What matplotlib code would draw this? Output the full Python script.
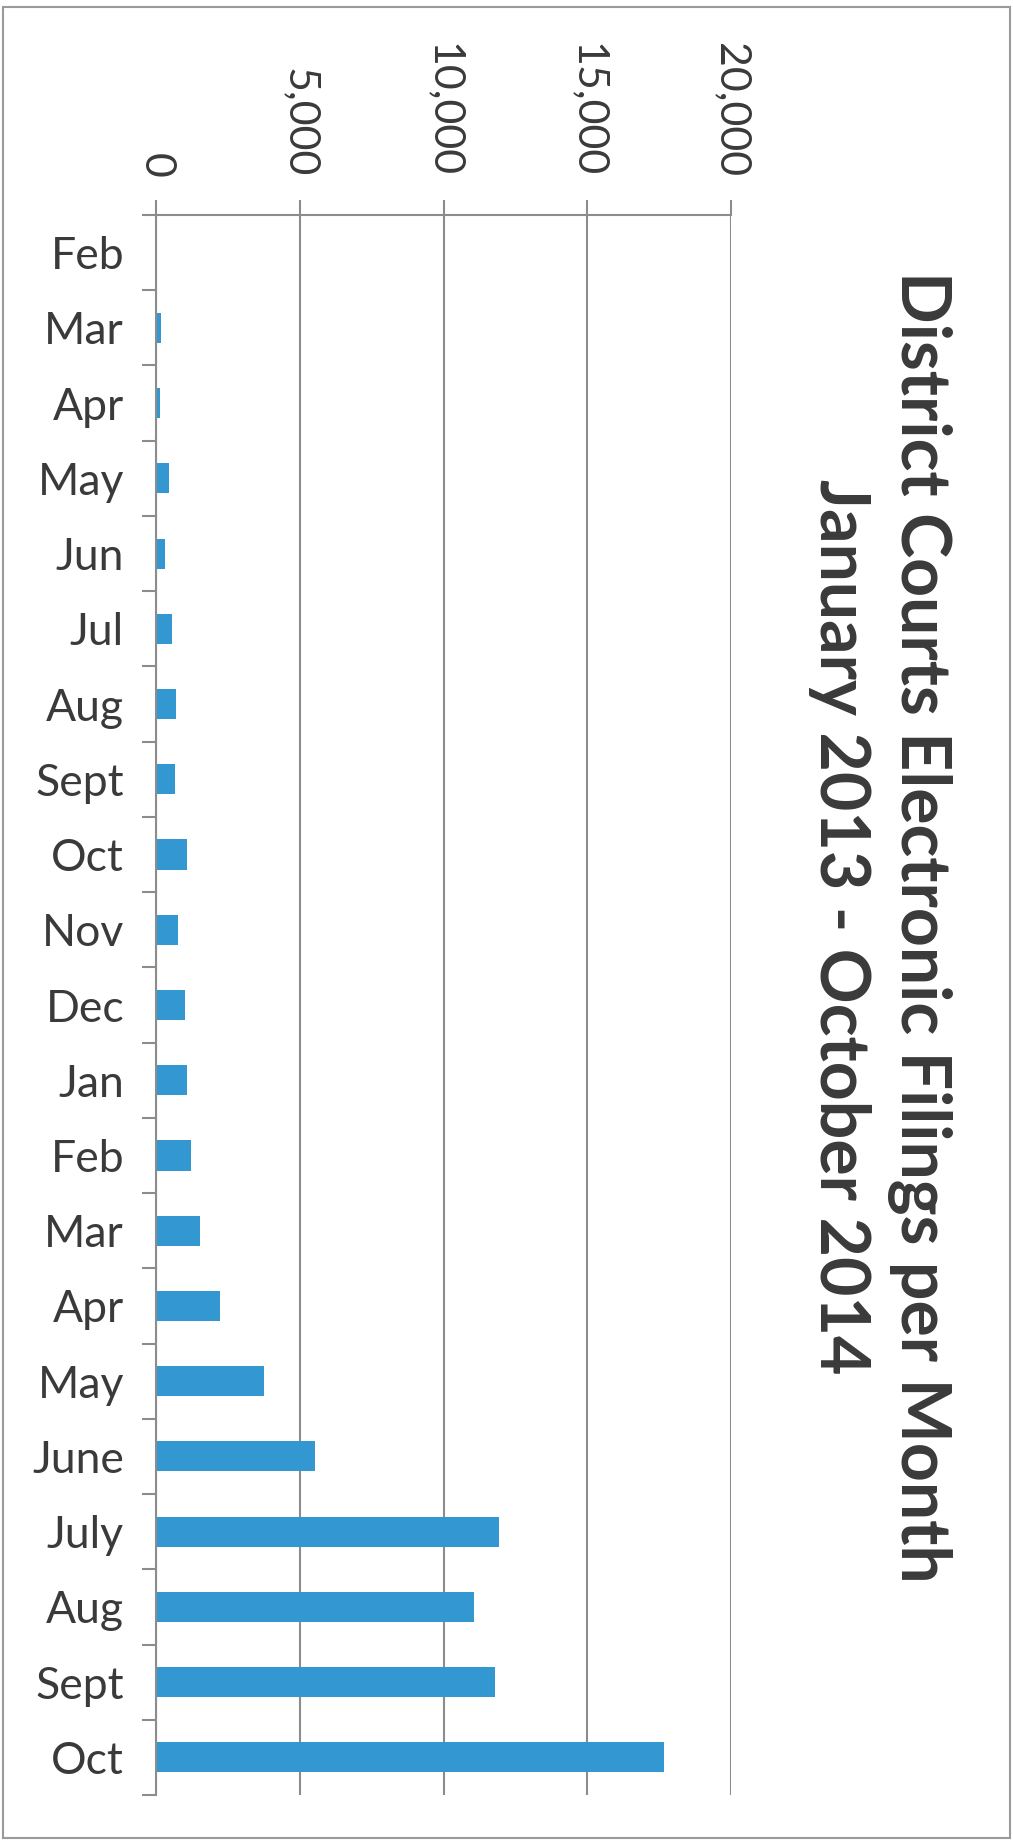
import matplotlib
matplotlib.use("Agg")
import matplotlib.pyplot as plt
import matplotlib.patches as patches
from matplotlib.ticker import FuncFormatter
import numpy as np

# months Feb 2013 .. Oct 2014
months = ["Feb", "Mar", "Apr", "May", "Jun", "Jul", "Aug", "Sept", "Oct", "Nov",
          "Dec", "Jan", "Feb", "Mar", "Apr", "May", "June", "July", "Aug", "Sept", "Oct"]
filings = [0, 170, 140, 440, 300, 550, 700, 660, 1080, 770,
           1010, 1080, 1220, 1540, 2210, 3770, 5520, 11920, 11060, 11790, 17670]
value_ticks = [0, 5000, 10000, 15000, 20000]
title = "District Courts Electronic Filings per Month\nJanuary 2013 - October 2014"

W, H = 1013, 1843
grey = "#8c8c8c"
text_col = "#3a3a3a"
bar_col = "#3397d2"

plt.rcParams["font.family"] = ["Lato", "DejaVu Sans"]

fig = plt.figure(figsize=(W / 100, H / 100), dpi=100)
ax = fig.add_axes([156 / W, 1 - 1795 / H, (731 - 156) / W, (1795 - 215) / H])

pos = np.arange(len(months))
ax.barh(pos, filings, height=0.4, color=bar_col, zorder=3)

ax.set_xlim(0, 20000)
ax.set_ylim(len(months) - 0.5, -0.5)

# value axis on top, labels rotated like the scanned page
ax.xaxis.tick_top()
ax.set_xticks(value_ticks)
ax.xaxis.set_major_formatter(FuncFormatter(lambda v, p: f"{v:,.0f}"))
ax.tick_params(axis="x", which="major", direction="out", length=11, width=1.5,
               color=grey, pad=16, labelsize=31, labelcolor=text_col,
               labelrotation=-90)
ax.grid(axis="x", color=grey, linewidth=1.5, zorder=0)

# category axis on the left, ticks between categories
ax.set_yticks(pos)
ax.set_yticklabels(months)
ax.set_yticks(np.arange(len(months) + 1) - 0.5, minor=True)
ax.tick_params(axis="y", which="major", length=0, pad=23, labelsize=32,
               labelcolor=text_col)
ax.tick_params(axis="y", which="minor", direction="out", length=10, width=1.5,
               color=grey)

for side in ["right", "bottom"]:
    ax.spines[side].set_visible(False)
for side in ["left", "top"]:
    ax.spines[side].set_color(grey)
    ax.spines[side].set_linewidth(1.5)
    ax.spines[side].set_zorder(4)

fig.text(880 / W, 1 - 927 / H, title, rotation=-90, ha="center", va="center",
         multialignment="center", fontsize=49, fontweight="bold",
         color=text_col, linespacing=1.3)

# page border from the scan
fig.patches.append(patches.Rectangle((3 / W, 5 / H), (1010 - 3) / W, (1836 - 5) / H,
                                     transform=fig.transFigure, fill=False,
                                     edgecolor="#9a9a9a", linewidth=1.5))

fig.savefig("out.png", dpi=100)
